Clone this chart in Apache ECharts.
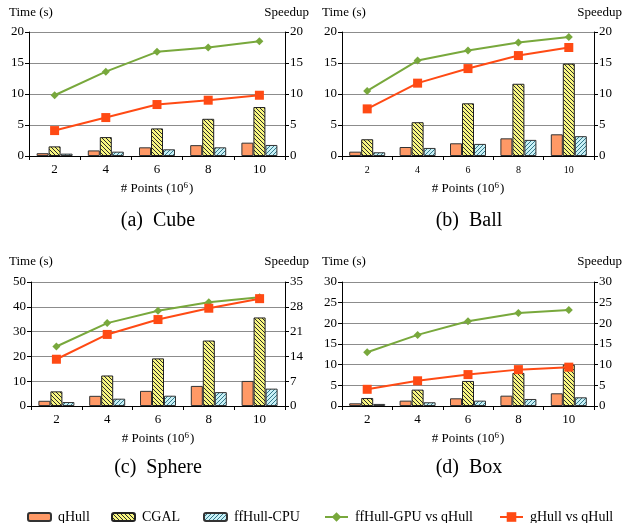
<!DOCTYPE html>
<html><head><meta charset="utf-8">
<script src="https://cdn.jsdelivr.net/npm/echarts@6/dist/echarts.min.js"></script>
<style>html,body{margin:0;padding:0;background:#fff}#c{width:623px;height:523px}</style>
</head><body><div id="c"></div>
<script>
const categories = ['2','4','6','8','10'];
const seriesNames = ['qHull','CGAL','ffHull-CPU','ffHull-GPU vs qHull','gHull vs qHull'];
// (a) Cube
const cubeQHull = [0.45, 0.9, 1.4, 1.75, 2.15];
const cubeCGAL = [1.55, 3.05, 4.45, 6.0, 7.9];
const cubeFfCPU = [0.38, 0.7, 1.08, 1.4, 1.78];
const cubeFfGPU = [9.8, 13.6, 16.8, 17.5, 18.5];
const cubeGHull = [4.1, 6.2, 8.3, 9.0, 9.8];
// (b) Ball
const ballQHull = [0.7, 1.45, 2.05, 2.85, 3.5];
const ballCGAL = [2.7, 5.45, 8.5, 11.65, 14.9];
const ballFfCPU = [0.6, 1.3, 1.95, 2.6, 3.2];
const ballFfGPU = [10.5, 15.4, 17.0, 18.3, 19.2];
const ballGHull = [7.6, 11.75, 14.1, 16.2, 17.5];
// (c) Sphere
const sphereQHull = [2.1, 4.1, 6.1, 8.1, 10.1];
const sphereCGAL = [5.9, 12.3, 19.2, 26.4, 35.7];
const sphereFfCPU = [1.6, 2.95, 4.15, 5.6, 7.0];
const sphereFfGPU = [16.8, 23.4, 26.9, 29.3, 30.7];
const sphereGHull = [13.2, 20.2, 24.4, 27.6, 30.3];
// (d) Box
const boxQHull = [0.65, 1.3, 1.86, 2.5, 3.07];
const boxCGAL = [1.94, 3.96, 6.06, 8.0, 10.0];
const boxFfCPU = [0.5, 0.9, 1.3, 1.7, 2.1];
const boxFfGPU = [13.0, 17.2, 20.5, 22.5, 23.2];
const boxGHull = [4.04, 6.1, 7.6, 8.8, 9.4];

const captions = ['(a)  Cube', '(b)  Ball', '(c)  Sphere', '(d)  Box'];
const timeMax = [20, 20, 50, 30];
const timeInterval = [5, 5, 10, 5];
const speedMax = [20, 20, 35, 30];
const speedInterval = [5, 5, 7, 5];

const panels = [
  [cubeQHull, cubeCGAL, cubeFfCPU, cubeFfGPU, cubeGHull],
  [ballQHull, ballCGAL, ballFfCPU, ballFfGPU, ballGHull],
  [sphereQHull, sphereCGAL, sphereFfCPU, sphereFfGPU, sphereGHull],
  [boxQHull, boxCGAL, boxFfCPU, boxFfGPU, boxGHull]
];

function makePattern(bg, fg, dir) {
  const s = 4;
  const c = document.createElement('canvas');
  c.width = s; c.height = s;
  const ctx = c.getContext('2d');
  ctx.fillStyle = bg; ctx.fillRect(0, 0, s, s);
  ctx.strokeStyle = fg; ctx.lineWidth = 1;
  ctx.beginPath();
  if (dir === 'back') {
    ctx.moveTo(-1, -1); ctx.lineTo(s + 1, s + 1);
    ctx.moveTo(-1, s - 1); ctx.lineTo(1, s + 1);
    ctx.moveTo(s - 1, -1); ctx.lineTo(s + 1, 1);
  } else {
    ctx.moveTo(-1, s + 1); ctx.lineTo(s + 1, -1);
    ctx.moveTo(-1, 1); ctx.lineTo(1, -1);
    ctx.moveTo(s - 1, s + 1); ctx.lineTo(s + 1, s - 1);
  }
  ctx.stroke();
  return { image: c, repeat: 'repeat' };
}

const qColor = '#FF9966';
const cgalPattern = makePattern('#F8F680', '#2a2a2a', 'back');
const ffPattern = makePattern('#C8F0F6', '#33788A', 'fwd');
const greenColor = '#78A83C';
const redColor = '#FF4A14';

const gridsPos = [
  { left: 29, top: 32, width: 256, height: 124 },
  { left: 342, top: 32, width: 252, height: 124 },
  { left: 31, top: 282, width: 254, height: 124 },
  { left: 342, top: 282, width: 252, height: 124 }
];
const font = 'Liberation Serif';

const grid = [], xAxis = [], yAxis = [], series = [], graphic = [];
gridsPos.forEach((g, i) => {
  grid.push(Object.assign({ containLabel: false }, g));
  xAxis.push({
    type: 'category', gridIndex: i, data: categories,
    axisLine: { lineStyle: { color: '#000', width: 1 } },
    axisTick: { show: true, length: 4, inside: false, lineStyle: { color: '#000' } },
    axisLabel: { color: '#000', fontFamily: font, fontSize: i === 1 ? 10 : 13, margin: i === 1 ? 9 : 7 },
    name: '{a|# Points (10}{s|6}{a|)}',
    nameLocation: 'middle', nameGap: 25,
    nameTextStyle: { rich: {
      a: { fontFamily: font, fontSize: 13, color: '#000' },
      s: { fontFamily: font, fontSize: 9, color: '#000', verticalAlign: 'top', padding: [0, 1, 6, 0] }
    } }
  });
  yAxis.push({
    type: 'value', gridIndex: i, min: 0, max: timeMax[i], interval: timeInterval[i], position: 'left',
    axisLine: { show: true, lineStyle: { color: '#000', width: 1 } },
    axisTick: { show: true, length: 4, lineStyle: { color: '#000' } },
    axisLabel: { color: '#000', fontFamily: font, fontSize: 13, margin: 5 },
    splitLine: { show: true, lineStyle: { color: '#8c8c8c', width: 1 } }
  });
  yAxis.push({
    type: 'value', gridIndex: i, min: 0, max: speedMax[i], interval: speedInterval[i], position: 'right',
    axisLine: { show: true, lineStyle: { color: '#000', width: 1 } },
    axisTick: { show: true, length: 4, lineStyle: { color: '#000' } },
    axisLabel: { color: '#000', fontFamily: font, fontSize: 13, margin: 5 },
    splitLine: { show: false }
  });
  const d = panels[i];
  const barCommon = { type: 'bar', xAxisIndex: i, yAxisIndex: 2 * i, barWidth: 12, barGap: '0%' };
  series.push(Object.assign({ name: seriesNames[0], data: d[0], itemStyle: { color: qColor, borderColor: '#333', borderWidth: 1 } }, barCommon));
  series.push(Object.assign({ name: seriesNames[1], data: d[1], itemStyle: { color: cgalPattern, borderColor: '#222', borderWidth: 1 } }, barCommon));
  series.push(Object.assign({ name: seriesNames[2], data: d[2], itemStyle: { color: ffPattern, borderColor: '#333', borderWidth: 1 } }, barCommon));
  series.push({ name: seriesNames[3], type: 'line', xAxisIndex: i, yAxisIndex: 2 * i + 1, data: d[3],
    symbol: 'diamond', symbolSize: 8, lineStyle: { color: greenColor, width: 2 }, itemStyle: { color: greenColor } });
  series.push({ name: seriesNames[4], type: 'line', xAxisIndex: i, yAxisIndex: 2 * i + 1, data: d[4],
    symbol: 'rect', symbolSize: 9, lineStyle: { color: redColor, width: 2 }, itemStyle: { color: redColor } });

  const ty = i < 2 ? 13 : 262;
  const lx = i % 2 === 0 ? 9 : 322;
  const rx = i % 2 === 0 ? 309 : 622;
  graphic.push({ type: 'text', left: lx, top: ty - 7, style: { text: 'Time (s)', font: '13px "Liberation Serif"', fill: '#000' } });
  graphic.push({ type: 'text', right: 623 - rx, top: ty - 7, style: { text: 'Speedup', font: '13px "Liberation Serif"', fill: '#000' } });
  const cx = i % 2 === 0 ? 158 : 469;
  const cy = i < 2 ? 221 : 468;
  graphic.push({ type: 'text', x: cx, y: cy, style: { text: captions[i], font: '20px "Liberation Serif"', fill: '#000', align: 'center', verticalAlign: 'middle' } });
});

const legendLefts = [22, 106, 198, 319, 494];
const legend = seriesNames.map((n, k) => ({
  data: [n], left: legendLefts[k], top: 505, itemWidth: 23, itemHeight: k < 3 ? 8 : 12, itemGap: 0,
  textStyle: { fontFamily: font, fontSize: 14, color: '#000', padding: [0, 0, 0, 2] }
}));

const chart = echarts.init(document.getElementById('c'), null, { renderer: 'canvas' });
chart.setOption({ animation: false, backgroundColor: '#fff', grid, xAxis, yAxis, series, legend, graphic });
</script></body></html>
